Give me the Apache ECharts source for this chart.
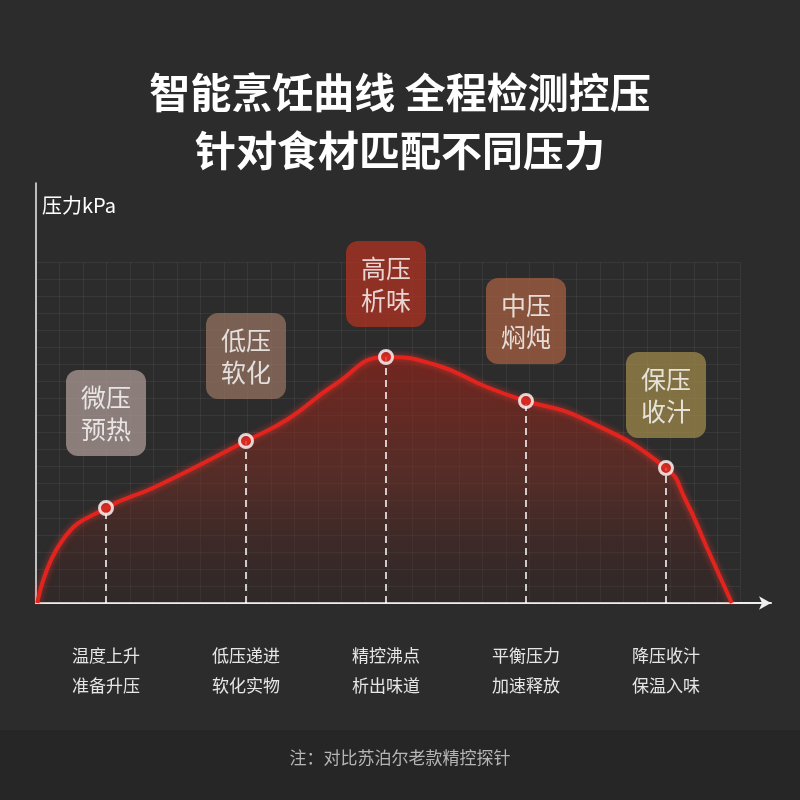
<!DOCTYPE html>
<html><head><meta charset="utf-8">
<script src="https://cdn.jsdelivr.net/npm/echarts@6/dist/echarts.min.js"></script>
<style>html,body{margin:0;background:#2c2c2c}#c{width:800px;height:800px}</style>
</head><body><div id="c"></div>
<script>
// curve samples: x in stage units (stage i sits at x=i), y pressure
const curve = [[0.51,0],[0.69,63],[1,95],[1.35,116],[2,162],[2.3,184],[2.63,218],[3,246],[3.36,238],[3.72,216],[4,202],[4.38,186],[5,135],[5.14,103],[5.29,56],[5.47,0]]
const stageX = [1, 2, 3, 4, 5]
const stageY = [95, 162, 246, 202, 135]
const tags = ['微压\n预热', '低压\n软化', '高压\n析味', '中压\n焖炖', '保压\n收汁']
const tagColors = ['#a3928e', '#8f6e5e', '#a73222', '#9e5c40', '#978348']
const tagGap = [44, 34, 22, 29, 22]
const bottomLabels = ['温度上升\n准备升压', '低压递进\n软化实物', '精控沸点\n析出味道', '平衡压力\n加速释放', '降压收汁\n保温入味']

const font = '"Noto Sans CJK SC", sans-serif'
const chart = echarts.init(document.getElementById('c'))

const points = stageX.map((x, i) => ({
  value: [x, stageY[i]],
  label: {
    show: true, position: 'top', distance: tagGap[i], formatter: tags[i],
    backgroundColor: tagColors[i], borderRadius: 12, padding: [11, 15],
    color: '#fff', fontSize: 25, lineHeight: 32, fontFamily: font
  }
}))

chart.setOption({
  backgroundColor: '#2c2c2c',
  title: [
    { text: '智能烹饪曲线 全程检测控压\n针对食材匹配不同压力', left: 'center', top: 58,
      textStyle: { color: '#fff', fontSize: 41, fontWeight: 'bold', lineHeight: 58, fontFamily: font } },
    { text: '注：对比苏泊尔老款精控探针', left: 'center', top: 744,
      textStyle: { color: '#b5b5b5', fontSize: 17, fontWeight: 'normal', fontFamily: font } }
  ],
  graphic: [{ type: 'rect', z: -1, shape: { x: 0, y: 730, width: 800, height: 70 }, style: { fill: '#262626' } }],
  grid: [
    { left: 36, right: 29, top: 183, bottom: 197 },
    { left: 36, right: 60, top: 262, bottom: 197 }
  ],
  xAxis: [
    { type: 'value', min: 0.5, max: 5.75, gridIndex: 0,
      axisLine: { lineStyle: { color: '#eee', width: 2 }, symbol: ['none', 'arrow'], symbolSize: [10, 12] },
      axisTick: { show: false }, splitLine: { show: false },
      axisLabel: { customValues: stageX, margin: 38, color: '#e6e6e6', fontSize: 17, lineHeight: 30, fontFamily: font,
        formatter: v => bottomLabels[Math.round(v) - 1] } },
    { type: 'value', min: 0, max: 704, interval: 23.5, gridIndex: 1, show: true,
      axisLine: { show: false }, axisTick: { show: false }, axisLabel: { show: false },
      splitLine: { lineStyle: { color: 'rgba(255,255,255,0.06)' } } }
  ],
  yAxis: [
    { type: 'value', min: 0, max: 420, gridIndex: 0, name: '压力kPa',
      nameLocation: 'end', nameGap: -32, nameTextStyle: { color: '#fff', fontSize: 20, align: 'left', padding: [0, 0, 0, 6], fontFamily: font },
      axisLine: { show: true, lineStyle: { color: '#eee', width: 1.5 } },
      axisTick: { show: false }, axisLabel: { show: false }, splitLine: { show: false } },
    { type: 'value', min: 0, max: 340, interval: 17, gridIndex: 1,
      axisLine: { show: false }, axisTick: { show: false }, axisLabel: { show: false },
      splitLine: { lineStyle: { color: 'rgba(255,255,255,0.06)' } } }
  ],
  series: [
    { type: 'line', data: curve, smooth: 0.5, symbol: 'none', z: 2,
      lineStyle: { color: '#e3231d', width: 4, shadowColor: 'rgba(255,60,50,0.6)', shadowBlur: 6 },
      areaStyle: { color: new echarts.graphic.LinearGradient(0, 0, 0, 1, [
        { offset: 0, color: 'rgba(150,35,25,0.95)' },
        { offset: 0.5, color: 'rgba(120,45,35,0.75)' },
        { offset: 1, color: 'rgba(60,30,28,0.3)' }]) },
      markLine: { symbol: 'none', silent: true, label: { show: false },
        lineStyle: { color: '#fff', type: [7, 5], width: 1.5 },
        data: stageX.map((x, i) => [{ coord: [x, 0] }, { coord: [x, stageY[i]] }]) } },
    { type: 'scatter', data: points, symbol: 'circle', symbolSize: 13, z: 5,
      itemStyle: { color: '#d92a22', borderColor: '#fff', borderWidth: 3 } }
  ]
})
</script></body></html>
